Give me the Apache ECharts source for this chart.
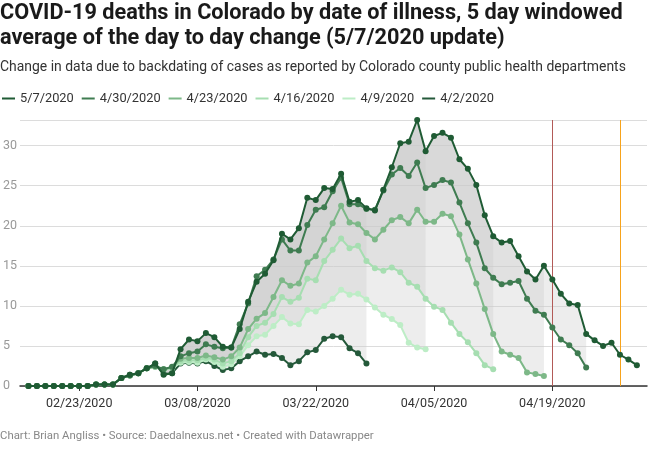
<!DOCTYPE html>
<html>
<head>
<meta charset="utf-8">
<script src="https://cdn.jsdelivr.net/npm/echarts@6/dist/echarts.min.js"></script>
<style>
  html, body { margin: 0; padding: 0; background: #fff; }
  #chart { width: 650px; height: 450px; }
</style>
</head>
<body>
<div id="chart"></div>
<script>
// Dates: daily from 02/17/2020 to 04/29/2020 (index 0..72)
const startDate = { month: 2, day: 17 };
const dayCount = 73;
const dates = [];
(function () {
  const dim = [31, 29, 31, 30, 31];
  let m = startDate.month, d = startDate.day;
  for (let k = 0; k < dayCount; k++) {
    dates.push(String(m).padStart(2, '0') + '/' + String(d).padStart(2, '0') + '/2020');
    d++;
    if (d > dim[m - 1]) { d = 1; m++; }
  }
})();

const tickIndex = [6, 20, 34, 48, 62];
const tickLabels = ['02/23/2020', '03/08/2020', '03/22/2020', '04/05/2020', '04/19/2020'];
const yTicks = [0, 5, 10, 15, 20, 25, 30];

const seriesNames = ['5/7/2020', '4/30/2020', '4/23/2020', '4/16/2020', '4/9/2020', '4/2/2020'];

const s0507 = [0,0,0,0,0,0,0,0,0.2,0.2,0.2,1.0,1.4,1.6,2.2,
  2.8,1.4,1.6,4.6,5.8,5.6,6.6,6.1,4.9,4.8,
  7.1,10.5,13.0,14.0,15.7,19.0,18.3,19.7,23.5,23.2,
  24.7,24.6,26.5,23.0,23.2,22.2,21.9,24.5,27.3,30.3,
  30.5,33.2,29.3,31.2,31.6,31.0,28.3,27.1,25.1,21.3,
  18.7,17.9,18.1,16.2,14.3,13.3,15.0,13.3,11.5,10.3,
  10.1,6.5,5.7,5.0,5.4,3.9,3.3,2.6];
const s0430 = [0,0,0,0,0,0,0,0,0.2,0.2,0.2,1.0,1.3,1.6,2.2,
  2.5,2.1,2.4,3.7,4.1,4.3,5.2,4.9,4.7,4.8,
  7.7,10.3,13.7,14.5,15.8,18.3,16.9,16.9,20.1,22.0,
  22.3,24.3,26.0,22.7,22.7,22.1,22.0,24.4,26.4,27.2,
  26.2,27.9,24.7,25.1,25.7,25.4,22.9,20.3,17.9,14.7,
  13.5,12.7,12.9,13.1,10.9,9.4,8.9,7.3,5.8,5.1,
  4.1,2.3];
const s0423 = [0,0,0,0,0,0,0,0,0.2,0.2,0.2,1.0,1.3,1.6,2.2,
  2.4,2.1,2.3,3.4,3.5,3.5,3.8,3.6,3.3,3.7,
  4.8,7.1,8.4,9.1,11.1,13.2,12.5,12.8,15.4,16.2,
  18.3,20.3,22.5,20.4,20.2,19.1,18.3,19.5,20.7,21.1,
  20.3,22.0,20.5,20.5,21.5,21.2,18.9,15.8,12.8,9.6,
  6.5,4.3,3.9,3.5,1.7,1.5,1.25];
const s0416 = [0,0,0,0,0,0,0,0,0.2,0.2,0.2,1.0,1.3,1.6,2.2,
  2.4,2.1,2.3,3.1,3.2,3.2,3.5,3.3,2.8,3.1,
  4.1,6.1,7.5,7.9,9.0,11.1,10.5,11.0,13.4,13.2,
  15.6,17.0,18.4,17.2,17.5,15.6,14.7,14.4,14.8,14.2,
  12.9,12.4,10.9,9.9,9.5,7.9,6.5,5.45,4.1,2.6,
  2.1];
const s0409 = [0,0,0,0,0,0,0,0,0.2,0.2,0.2,1.0,1.3,1.6,2.2,
  2.4,2.0,2.2,2.9,3.0,2.9,3.3,3.0,2.4,2.7,
  3.7,5.1,6.2,6.4,7.5,8.6,7.8,7.7,9.5,9.3,
  10.0,10.9,12.0,11.4,11.5,10.8,9.8,8.9,8.35,7.6,
  5.4,4.8,4.6];
const s0402 = [0,0,0,0,0,0,0,0,0.2,0.2,0.2,1.0,1.4,1.6,2.2,
  2.8,1.5,1.6,2.8,2.9,2.8,3.1,2.5,2.0,2.2,
  3.1,3.7,4.3,3.9,4.0,3.5,2.6,3.1,4.2,4.5,
  5.9,6.2,6.1,4.7,4.1,2.8];

const seriesValues = [s0507, s0430, s0423, s0416, s0409, s0402];
const colors = ['#1f5b34', '#3f7c51', '#7db888', '#a6deb1', '#bdedc6', '#24593a'];

// vertical reference lines (date index)
const refLines = [{ idx: 62, color: '#b25a57' }, { idx: 70, color: '#f7a31c' }];

const FONT = 'Roboto, "Noto Sans", sans-serif';
const series = [];

// Bands: from each older line up to the latest line (polygon through the axes' scales)
for (let k = 1; k < seriesValues.length; k++) {
  const base = seriesValues[k];
  const top = s0507;
  series.push({
    type: 'custom', silent: true, z: 1, clip: true,
    data: [[0, 0]],
    renderItem: function (params, api) {
      const pts = [];
      for (let i = 0; i < base.length; i++) pts.push(api.coord([i, top[i]]));
      for (let i = base.length - 1; i >= 0; i--) pts.push(api.coord([i, base[i]]));
      return { type: 'polygon', shape: { points: pts }, style: { fill: '#cccccc', opacity: 0.35 } };
    }
  });
}

// Lines drawn oldest first so the latest is on top
for (let k = seriesValues.length - 1; k >= 0; k--) {
  const s = {
    name: seriesNames[k], type: 'line', z: 3 + (seriesValues.length - k),
    data: seriesValues[k].map((v, i) => [i, v]),
    symbol: 'circle', symbolSize: 6, showSymbol: true, showAllSymbol: true,
    lineStyle: { width: 2, color: colors[k] },
    itemStyle: { color: colors[k] },
    emphasis: { disabled: true }
  };
  if (k === 0) {
    s.markLine = {
      silent: true, symbol: 'none', label: { show: false },
      data: refLines.map(r => ({ xAxis: r.idx, lineStyle: { color: r.color, width: 1, type: 'solid' } }))
    };
  }
  series.push(s);
}

const chart = echarts.init(document.getElementById('chart'), null, { renderer: 'canvas' });
chart.setOption({
  animation: false,
  backgroundColor: '#fff',
  title: [
    {
      text: 'COVID-19 deaths in Colorado by date of illness, 5 day windowed\naverage of the day to day change (5/7/2020 update)',
      left: 0, top: 1, padding: 0,
      textStyle: { fontFamily: FONT, fontSize: 21.7, fontWeight: 'bold', color: '#1a1a1a', lineHeight: 25 }
    },
    {
      text: 'Change in data due to backdating of cases as reported by Colorado county public health departments',
      left: 0, top: 61, padding: 0,
      textStyle: { fontFamily: FONT, fontSize: 13.95, fontWeight: 'normal', color: '#333' }
    },
    {
      text: 'Chart: Brian Angliss • Source: Daedalnexus.net • Created with Datawrapper',
      left: 0, top: 431, padding: 0,
      textStyle: { fontFamily: FONT, fontSize: 11.35, fontWeight: 'normal', color: '#888' }
    }
  ],
  legend: {
    data: seriesNames.map(n => ({ name: n, icon: 'rect' })),
    left: 2, top: 92, padding: 0, itemWidth: 13, itemHeight: 2, itemGap: 8,
    textStyle: { fontFamily: FONT, fontSize: 12.8, color: '#333' },
    selectedMode: false
  },
  grid: { left: 19, right: 3, top: 120, bottom: 64, containLabel: false },
  xAxis: {
    type: 'value', min: -1, max: 73.2,
    axisLine: { show: true, onZero: false, lineStyle: { color: '#333', width: 1.5 } },
    axisTick: { show: true, customValues: tickIndex, length: 5, lineStyle: { color: '#333' } },
    axisLabel: {
      customValues: tickIndex, margin: 11,
      formatter: v => tickLabels[tickIndex.indexOf(Math.round(v))] || '',
      fontFamily: FONT, fontSize: 12.5, color: '#333'
    },
    splitLine: { show: false }
  },
  yAxis: {
    type: 'value', min: 0, max: 33.2, interval: 5,
    axisLine: { show: false }, axisTick: { show: false },
    axisLabel: {
      customValues: yTicks, align: 'left', margin: 17,
      fontFamily: FONT, fontSize: 12.5, color: '#999'
    },
    splitLine: { show: true, lineStyle: { color: '#dcdcdc', width: 1 } }
  },
  series: series
});
</script>
</body>
</html>
